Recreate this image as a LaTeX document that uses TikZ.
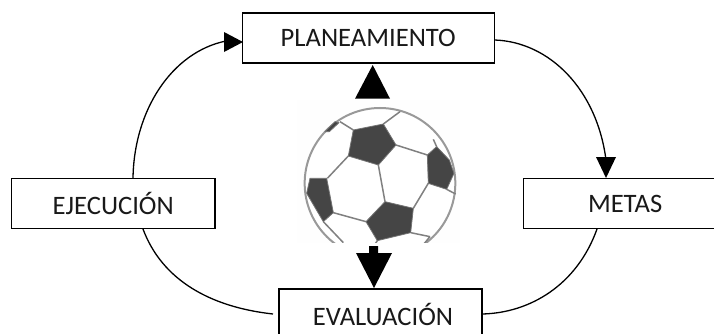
\documentclass[tikz,border=0pt]{standalone}
\usepackage{fontspec}
\setmainfont{Carlito}
\tikzset{
  x=1pt,y=-1pt,
  boxnode/.style={draw=black,line width=1.1pt,fill=white,minimum height=50pt,inner sep=0pt,font=\fontsize{26.6}{30}\selectfont,text=black!90},
  curve/.style={draw=black,line width=1.3pt},
  solidtip/.style={fill=black,draw=none},
  ballline/.style={draw=black!50,line width=1.5pt,line join=round},
  panel/.style={fill=black!73,draw=black!55,line width=.8pt,line join=round},
}
\begin{document}
\begin{tikzpicture}
\useasboundingbox (0,0) rectangle (714,333);
\fill[white] (0,0) rectangle (714,333);
\coordinate (evalL) at (273,314);
\coordinate (evalR) at (482,314);
% ball (image clipped at its lower edge)
\begin{scope}[shift={(290,50)},x=0.3333pt,y=-0.3333pt]
\clip (0,140) rectangle (540,578);
\fill[black!.5] (20,150) rectangle (510,578);
\fill[white] (270,400) circle [radius=226];
\draw[draw=black!40,line width=2pt] (270,400) circle [radius=226];
\draw[ballline] (190,240)--(150,215) (280,222)--(330,185) (318,285)--(412,315)
  (265,345)--(285,455) (175,318)--(112,385) (130,488)--(228,515) (370,475)--(415,400)
  (470,418)--(497,432) (362,548)--(420,560) (100,515)--(160,578) (440,290)--(430,268) (262,572)--(250,590) (420,560)--(395,590);
\path[panel] (190,240)--(280,222)--(318,285)--(265,345)--(175,318)--cycle;
\path[panel] (60,385)--(110,385)--(130,488)--(100,515)--(50,430)--cycle;
\path[panel] (285,455)--(370,475)--(362,548)--(262,572)--(228,515)--cycle;
\path[panel] (440,290)--(478,330)--(492,370)--(470,418)--(415,400)--(412,315)--cycle;
\path[panel] (105,245)--(135,215)--(147,218)--(118,245)--cycle;
\end{scope}
% boxes
\node[boxnode,minimum width=252pt] (plan) at (368.2,38) {PLANEAMIENTO};
\node[boxnode,minimum width=203.5pt] (ejec) at (113.2,203.7) {EJECUCIÓN};
\begin{scope}
\clip (0,0) rectangle (714,333);
\node[boxnode,minimum width=220pt,text width=220pt,align=left] (metas) at (633.5,203.7) {\hspace*{64.5pt}METAS};
\node[boxnode,minimum width=203pt,minimum height=70pt] (evalu) at (380.5,324) {};
\end{scope}
\node[font=\fontsize{26.6}{30}\selectfont,text=black!90,inner sep=0pt] (evaltxt) at (383,314) {EVALUACIÓN};
% curved connectors
\draw[curve] (ejec.north -| 133,178) .. controls (134,110) and (172,52) .. (226,41);
\path[solidtip] (243,42)--(224,32)--(224,52)--cycle;
\draw[curve] (plan.east |- 494,40) .. controls (550,42) and (597,90) .. (606,160);
\path[solidtip] (606,178)--(596,157)--(616,157)--cycle;
\draw[curve] (143,229) .. controls (162,280) and (210,307) .. (evalL);
\draw[curve] (597,229) .. controls (577,285) and (530,313) .. (evalR);
% central arrows
\path[solidtip] (372.7,65)--(390,98.7)--(355,98.7)--cycle;
\path[solidtip] (369,246)--(378,246)--(378,253)--(392,253)--(374,288)--(356,253)--(369,253)--cycle;
\end{tikzpicture}
\end{document}
